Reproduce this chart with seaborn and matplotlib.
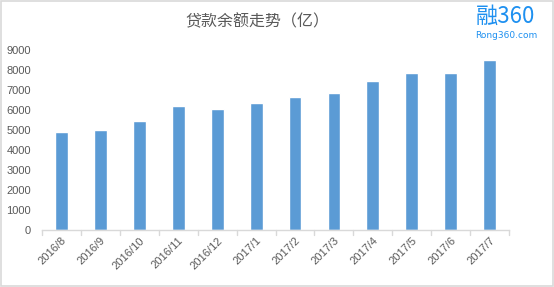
import matplotlib
matplotlib.use("Agg")
import matplotlib.pyplot as plt
import seaborn as sns
import pandas as pd
from matplotlib.patches import Rectangle

months = ["2016/8", "2016/9", "2016/10", "2016/11", "2016/12", "2017/1",
          "2017/2", "2017/3", "2017/4", "2017/5", "2017/6", "2017/7"]
balances = [4900, 5000, 5450, 6200, 6050, 6350, 6650, 6850, 7450, 7850, 7850, 8500]
yticks = [0, 1000, 2000, 3000, 4000, 5000, 6000, 7000, 8000, 9000]
title = "贷款余额走势（亿）"

sns.set_theme(style="white")
plt.rcParams["font.family"] = ["Noto Sans CJK SC", "DejaVu Sans"]

df = pd.DataFrame({"month": months, "balance": balances})

fig = plt.figure(figsize=(5.54, 2.87), dpi=100)
ax = fig.add_axes([0.0758, 0.1986, 0.919 - 0.0758, 0.826 - 0.1986])
sns.barplot(data=df, x="month", y="balance", color="#5B9BD5", width=0.33,
            saturation=1, ax=ax)

ax.set_ylim(0, 9000)
ax.set_xlim(-0.5, len(months) - 0.5)
ax.set_yticks(yticks)
ax.set_yticklabels([str(v) for v in yticks], fontsize=8, color="#595959",
                   family=["Liberation Sans", "DejaVu Sans"])
ax.set_xlabel("")
ax.set_ylabel("")
for s in ["top", "right", "left"]:
    ax.spines[s].set_visible(False)
ax.spines["bottom"].set_color("#D9D9D9")
ax.spines["bottom"].set_linewidth(1)
ax.tick_params(axis="y", length=0, pad=8)
ax.tick_params(axis="x", length=0, pad=4)
ax.set_xticks(range(len(months)))
ax.set_xticklabels(months, rotation=45, ha="right", rotation_mode="anchor",
                   fontsize=8, color="#595959",
                   family=["Liberation Sans", "DejaVu Sans"])
# category boundary tick marks
for b in [i - 0.5 for i in range(len(months) + 1)]:
    ax.plot([b, b], [0, -0.028], transform=ax.get_xaxis_transform(),
            color="#D9D9D9", lw=1, clip_on=False)

fig.text(257 / 554, 1 - 22 / 287, title, ha="center", va="center",
         fontsize=11.5, color="#595959")

# logo
fig.text(506 / 554, 1 - 16 / 287, "融360", ha="center", va="center",
         fontsize=16, color="#1E90F0")
fig.text(506 / 554, 1 - 35 / 287, "Rong360.com", ha="center", va="center",
         fontsize=6.5, color="#1E90F0", family=["DejaVu Sans"])

# outer border
fig.patches.append(Rectangle((0.001, 0.002), 0.997, 0.995, transform=fig.transFigure,
                             fill=False, edgecolor="#D9D9D9", lw=1.2))

fig.savefig("out.png", dpi=100)
